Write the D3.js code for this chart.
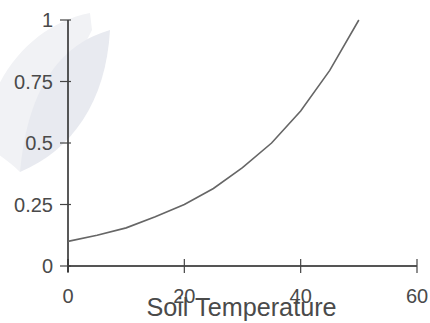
<!DOCTYPE html>
<html>
<head>
<meta charset="utf-8">
<script src="https://cdn.jsdelivr.net/npm/d3@7"></script>
<style>
  html, body { margin: 0; padding: 0; background: #fff; }
  svg { display: block; }
  text { font-family: "Liberation Sans", Arial, sans-serif; fill: #4a4a4a; }
</style>
</head>
<body>
<svg id="chart" width="430" height="323"></svg>
<script>
// Soil temperature response curve
const temperature = [0, 5, 10, 15, 20, 25, 30, 35, 40, 45, 50];
const response    = [0.10, 0.125, 0.155, 0.20, 0.25, 0.315, 0.40, 0.50, 0.63, 0.795, 1.0];
const xTicks = [0, 20, 40, 60];
const yTicks = [0, 0.25, 0.5, 0.75, 1];
const xLabel = "Soil Temperature";

const svg = d3.select("#chart");

const x = d3.scaleLinear().domain([0, 60]).range([68, 417]);
const y = d3.scaleLinear().domain([0, 1]).range([266, 20]);

// faint leaf emblem in the background
const emblem = svg.append("g");
emblem.append("path")
  .attr("d", "M90,13 C45,22 8,55 -10,105 L-10,148 C3,158 12,164 20,172 L92,30 Z")
  .attr("fill", "#f1f2f5");
emblem.append("path")
  .attr("d", "M110,30 C62,44 28,85 20,172 C72,150 106,102 110,30 Z")
  .attr("fill", "#e8eaf0");

// x axis
const xAxis = svg.append("g").attr("transform", `translate(0,${y(0)})`);
xAxis.append("line")
  .attr("x1", x(0)).attr("x2", x(60))
  .attr("stroke", "#555").attr("stroke-width", 2);
xAxis.selectAll("line.tick").data(xTicks).join("line")
  .attr("class", "tick")
  .attr("x1", d => x(d)).attr("x2", d => x(d))
  .attr("y1", -7).attr("y2", 7)
  .attr("stroke", "#444").attr("stroke-width", 1.2);
xAxis.selectAll("text").data(xTicks).join("text")
  .attr("x", d => x(d)).attr("y", 37)
  .attr("text-anchor", "middle")
  .style("font-size", "20px")
  .text(d => d);

// y axis
const yAxis = svg.append("g").attr("transform", `translate(${x(0)},0)`);
yAxis.append("line")
  .attr("y1", y(1)).attr("y2", y(0) + 6)
  .attr("stroke", "#222").attr("stroke-width", 1.5);
yAxis.selectAll("line.tick").data(yTicks).join("line")
  .attr("class", "tick")
  .attr("y1", d => y(d)).attr("y2", d => y(d))
  .attr("x1", -8).attr("x2", 3)
  .attr("stroke", "#444").attr("stroke-width", 1.2);
yAxis.selectAll("text").data(yTicks).join("text")
  .attr("x", -15).attr("y", d => y(d) + 7)
  .attr("text-anchor", "end")
  .style("font-size", "20px")
  .text(d => d);

// axis title
svg.append("text")
  .attr("transform", `translate(${(x(0) + x(60)) / 2 - 1},316) scale(0.97,1)`)
  .attr("text-anchor", "middle")
  .style("font-size", "26px")
  .text(xLabel);

// response curve
const line = d3.line()
  .x((d, i) => x(temperature[i]))
  .y(d => y(d));
svg.append("path")
  .datum(response)
  .attr("d", line)
  .attr("fill", "none")
  .attr("stroke", "#666")
  .attr("stroke-width", 1.6);
</script>
</body>
</html>
